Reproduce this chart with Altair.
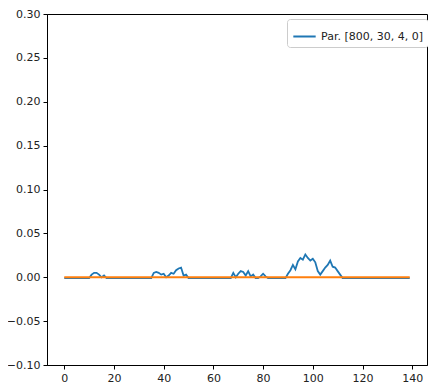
import altair as alt
import pandas as pd

# Blue series values for x = 0..139
x_vals = list(range(140))
blue_vals = [-0.001] * 140
bumps = {
    11: 0.003, 12: 0.005, 13: 0.005, 14: 0.003, 15: 0.0, 16: 0.002,
    36: 0.005, 37: 0.006, 38: 0.005, 39: 0.003, 40: 0.004, 41: 0.0, 42: 0.002,
    43: 0.005, 44: 0.004, 45: 0.008, 46: 0.010, 47: 0.011, 48: 0.002, 49: 0.003,
    68: 0.005, 69: 0.0, 70: 0.004, 71: 0.007, 72: 0.006, 73: 0.002, 74: 0.007,
    75: 0.001, 76: 0.003, 79: 0.001, 80: 0.004, 81: 0.001,
    90: 0.004, 91: 0.008, 92: 0.014, 93: 0.009, 94: 0.018, 95: 0.022, 96: 0.020,
    97: 0.026, 98: 0.022, 99: 0.019, 100: 0.021, 101: 0.017, 102: 0.007,
    103: 0.003, 104: 0.007, 105: 0.011, 106: 0.014, 107: 0.019, 108: 0.012,
    109: 0.011, 110: 0.007, 111: 0.003,
}
for k, v in bumps.items():
    blue_vals[k] = v
orange_vals = [0.0] * 140

legend_label = "Par. [800, 30, 4, 0]"
x_ticks = [0, 20, 40, 60, 80, 100, 120, 140]
y_ticks = [-0.10, -0.05, 0.00, 0.05, 0.10, 0.15, 0.20, 0.25, 0.30]

df_blue = pd.DataFrame({"x": x_vals, "y": blue_vals, "series": legend_label})
df_orange = pd.DataFrame({"x": x_vals, "y": orange_vals})

xscale = alt.Scale(domain=[-6.95, 145.95], nice=False, zero=False)
yscale = alt.Scale(domain=[-0.10, 0.30], nice=False, zero=False)
xaxis = alt.Axis(values=x_ticks, title=None, grid=False, labelFontSize=11,
                 tickSize=4, labelPadding=3, domainColor="black", tickColor="black",
                 labelColor="#222", labelFont="DejaVu Sans")
yaxis = alt.Axis(values=y_ticks, format=".2f", title=None, grid=False, labelFontSize=11,
                 tickSize=4, labelPadding=3, domainColor="black", tickColor="black",
                 labelColor="#222", labelFont="DejaVu Sans")

blue = alt.Chart(df_blue).mark_line(strokeWidth=1.8).encode(
    x=alt.X("x:Q", scale=xscale, axis=xaxis),
    y=alt.Y("y:Q", scale=yscale, axis=yaxis),
    color=alt.Color("series:N", scale=alt.Scale(domain=[legend_label], range=["#1f77b4"]),
                    legend=alt.Legend(title=None, orient="none", legendX=240, legendY=5,
                                      symbolType="stroke", symbolSize=500,
                                      symbolStrokeWidth=2, labelFontSize=11,
                                      labelFont="DejaVu Sans", labelColor="#222",
                                      padding=5, strokeColor="#cccccc",
                                      cornerRadius=3, fillColor="white")),
)
orange = alt.Chart(df_orange).mark_line(strokeWidth=1.8, color="#ff7f0e").encode(
    x=alt.X("x:Q", scale=xscale),
    y=alt.Y("y:Q", scale=yscale),
)

chart = alt.layer(blue, orange).properties(
    width=380, height=351,
    autosize=alt.AutoSizeParams(type="none"),
    padding={"left": 39, "top": 6, "right": 1, "bottom": 19},
).configure_view(stroke="black", strokeWidth=1)

chart.save("out.html", embed_options={"renderer": "svg", "actions": False})
